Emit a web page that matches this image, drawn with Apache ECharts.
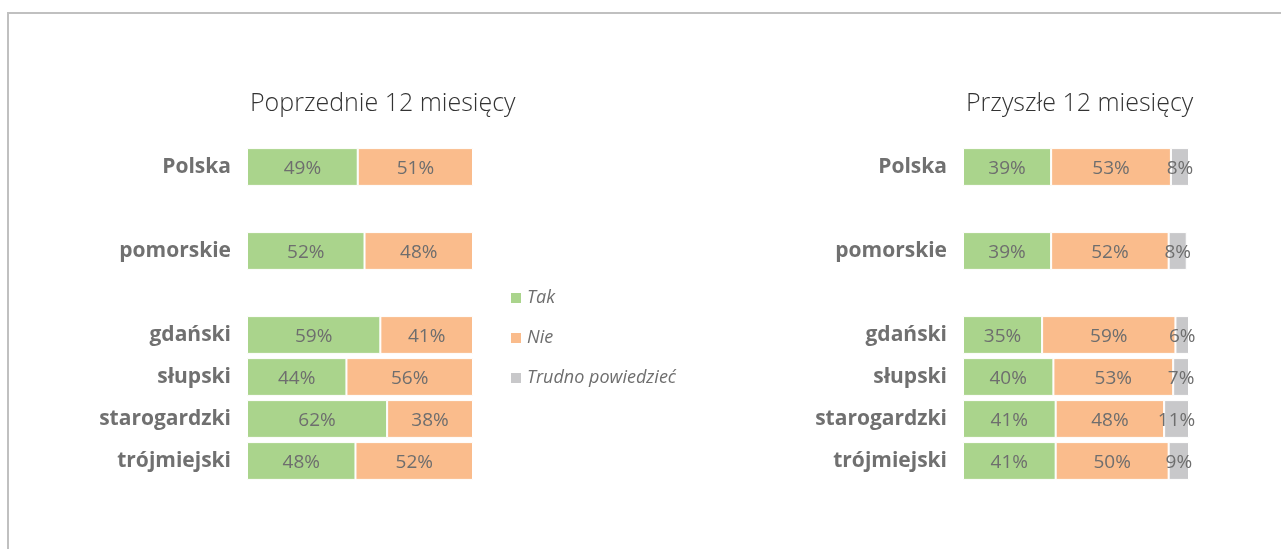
<!DOCTYPE html>
<html>
<head>
<meta charset="utf-8">
<script src="https://cdn.jsdelivr.net/npm/echarts@6/dist/echarts.min.js"></script>
<style>
  html, body { margin: 0; padding: 0; background: #fff; }
  #chart { width: 1281px; height: 549px; }
</style>
</head>
<body>
<div id="chart"></div>
<script>
// categories (blank entries keep the gaps between groups)
const categories = ['Polska', '', 'pomorskie', '', 'gdański', 'słupski', 'starogardzki', 'trójmiejski']

// Poprzednie 12 miesięcy
const prevTak = [49, '-', 52, '-', 59, 44, 62, 48]
const prevNie = [51, '-', 48, '-', 41, 56, 38, 52]

// Przyszłe 12 miesięcy
const nextTak = [39, '-', 39, '-', 35, 40, 41, 41]
const nextNie = [53, '-', 52, '-', 59, 53, 48, 50]
const nextTrudno = [8, '-', 8, '-', 6, 7, 11, 9]

const colors = { tak: '#aad48c', nie: '#fabc8c', trudno: '#c8c8ca' }
const font = '"Open Sans", Lato, sans-serif'

const chart = echarts.init(document.getElementById('chart'))

const barLabel = {
  show: true,
  position: 'inside',
  offset: [0, 2],
  formatter: '{c}%',
  color: '#6e6e6e',
  fontSize: 19,
  fontFamily: font
}

const makeSeries = (name, data, color, idx) => ({
  name,
  type: 'bar',
  stack: 'g' + idx,
  xAxisIndex: idx,
  yAxisIndex: idx,
  data,
  barCategoryGap: '10%',
  itemStyle: { color, borderColor: '#fff', borderWidth: 1 },
  label: barLabel,
  emphasis: { disabled: true }
})

const yAxisBase = {
  type: 'category',
  data: categories,
  inverse: true,
  axisLine: { show: false },
  axisTick: { show: false },
  axisLabel: {
    color: '#707070',
    fontSize: 21,
    fontWeight: 'bold',
    fontFamily: font,
    verticalAlign: 'top',
    padding: [-10, 0, 0, 0],
    margin: 16
  }
}

const xAxisBase = {
  type: 'value',
  min: 0,
  max: 100,
  show: false
}

chart.setOption({
  animation: false,
  graphic: [{
    type: 'rect',
    shape: { x: 8, y: 13, width: 1400, height: 700 },
    style: { fill: 'none', stroke: '#c0c0c0', lineWidth: 2 },
    silent: true
  }],
  title: [
    {
      text: 'Poprzednie 12 miesięcy',
      left: 245,
      top: 86,
      textStyle: { color: '#333', fontSize: 25, fontWeight: 300, fontFamily: font }
    },
    {
      text: 'Przyszłe 12 miesięcy',
      left: 961,
      top: 86,
      textStyle: { color: '#333', fontSize: 25, fontWeight: 300, fontFamily: font }
    }
  ],
  legend: {
    orient: 'vertical',
    left: 504,
    top: 284,
    itemGap: 22,
    itemWidth: 12,
    itemHeight: 12,
    icon: 'rect',
    data: ['Tak', 'Nie', 'Trudno powiedzieć'],
    textStyle: { color: '#6e6e6e', fontSize: 18, fontStyle: 'italic', fontFamily: font }
  },
  grid: [
    { left: 247, width: 226, top: 146, height: 336 },
    { left: 963, width: 226, top: 146, height: 336 }
  ],
  xAxis: [
    { ...xAxisBase, gridIndex: 0 },
    { ...xAxisBase, gridIndex: 1 }
  ],
  yAxis: [
    { ...yAxisBase, gridIndex: 0 },
    { ...yAxisBase, gridIndex: 1 }
  ],
  series: [
    makeSeries('Tak', prevTak, colors.tak, 0),
    makeSeries('Nie', prevNie, colors.nie, 0),
    makeSeries('Tak', nextTak, colors.tak, 1),
    makeSeries('Nie', nextNie, colors.nie, 1),
    makeSeries('Trudno powiedzieć', nextTrudno, colors.trudno, 1)
  ]
})
</script>
</body>
</html>
